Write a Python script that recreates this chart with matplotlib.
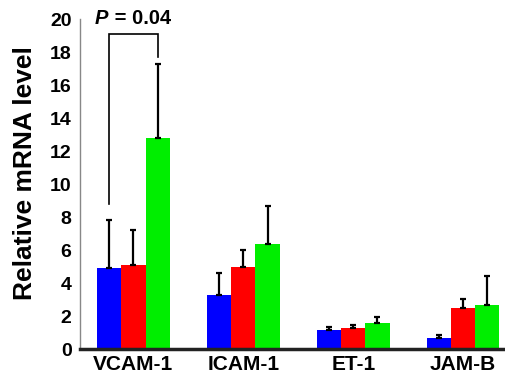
import matplotlib
matplotlib.use("Agg")
import matplotlib.pyplot as plt
import numpy as np

plt.rcParams['font.family'] = ['Liberation Sans', 'DejaVu Sans']

genes = ["VCAM-1", "ICAM-1", "ET-1", "JAM-B"]
colors = ["#0000ff", "#ff0000", "#00ee00"]
blue_vals = [4.9, 3.3, 1.15, 0.65]
blue_err = [2.9, 1.3, 0.2, 0.2]
red_vals = [5.1, 5.0, 1.27, 2.5]
red_err = [2.1, 1.0, 0.18, 0.55]
green_vals = [12.8, 6.4, 1.6, 2.7]
green_err = [4.5, 2.3, 0.35, 1.75]
yticks = [0, 2, 4, 6, 8, 10, 12, 14, 16, 18, 20]
p_label = "= 0.04"

fig = plt.figure(figsize=(5.06, 3.75), dpi=100)
ax = fig.add_axes([0.158, 0.069, 0.84, 0.88])

x = np.arange(len(genes))
w = 0.22
series = [(blue_vals, blue_err), (red_vals, red_err), (green_vals, green_err)]
for i, (vals, errs) in enumerate(series):
    pos = x + (i - 1) * w
    ax.bar(pos, vals, width=w, color=colors[i], edgecolor='none', zorder=2)
    ax.errorbar(pos, vals, yerr=[np.zeros(len(vals)), errs], fmt='none',
                ecolor='black', elinewidth=1.6, capsize=2.5, capthick=1.6, zorder=3)

# significance bracket between blue and green VCAM-1 bars
xb = x[0] - w
xg = x[0] + w
ax.plot([xb, xb, xg, xg], [8.8, 19.1, 19.1, 17.7], color='black', lw=1.2,
        solid_joinstyle='miter', zorder=4)
ax.text(x[0] - w * 1.6, 19.45, "P", fontsize=14.5, fontweight='bold', style='italic',
        ha='left', va='bottom')
ax.text(x[0] - w * 1.03, 19.45, " " + p_label, fontsize=14.5, fontweight='bold',
        ha='left', va='bottom')

ax.set_xlim(-0.487, 3.38)
ax.set_ylim(0, 20)
ax.set_yticks(yticks)
ax.set_yticklabels([str(t) for t in yticks], fontsize=14, fontweight='bold')
ax.set_xticks(x)
ax.set_xticklabels(genes, fontsize=15, fontweight='bold')
ax.tick_params(axis='y', length=0, pad=6)
ax.tick_params(axis='x', length=0, pad=4)

for s in ['top', 'right']:
    ax.spines[s].set_visible(False)
ax.spines['left'].set_color('#888888')
ax.spines['left'].set_linewidth(1.0)
ax.spines['bottom'].set_linewidth(2.5)
ax.spines['bottom'].set_color('#222222')

ax.set_ylabel("Relative mRNA level", fontsize=19, fontweight='bold')
ax.yaxis.set_label_coords(-0.10, 0.535)

fig.savefig("out.png", dpi=100)
